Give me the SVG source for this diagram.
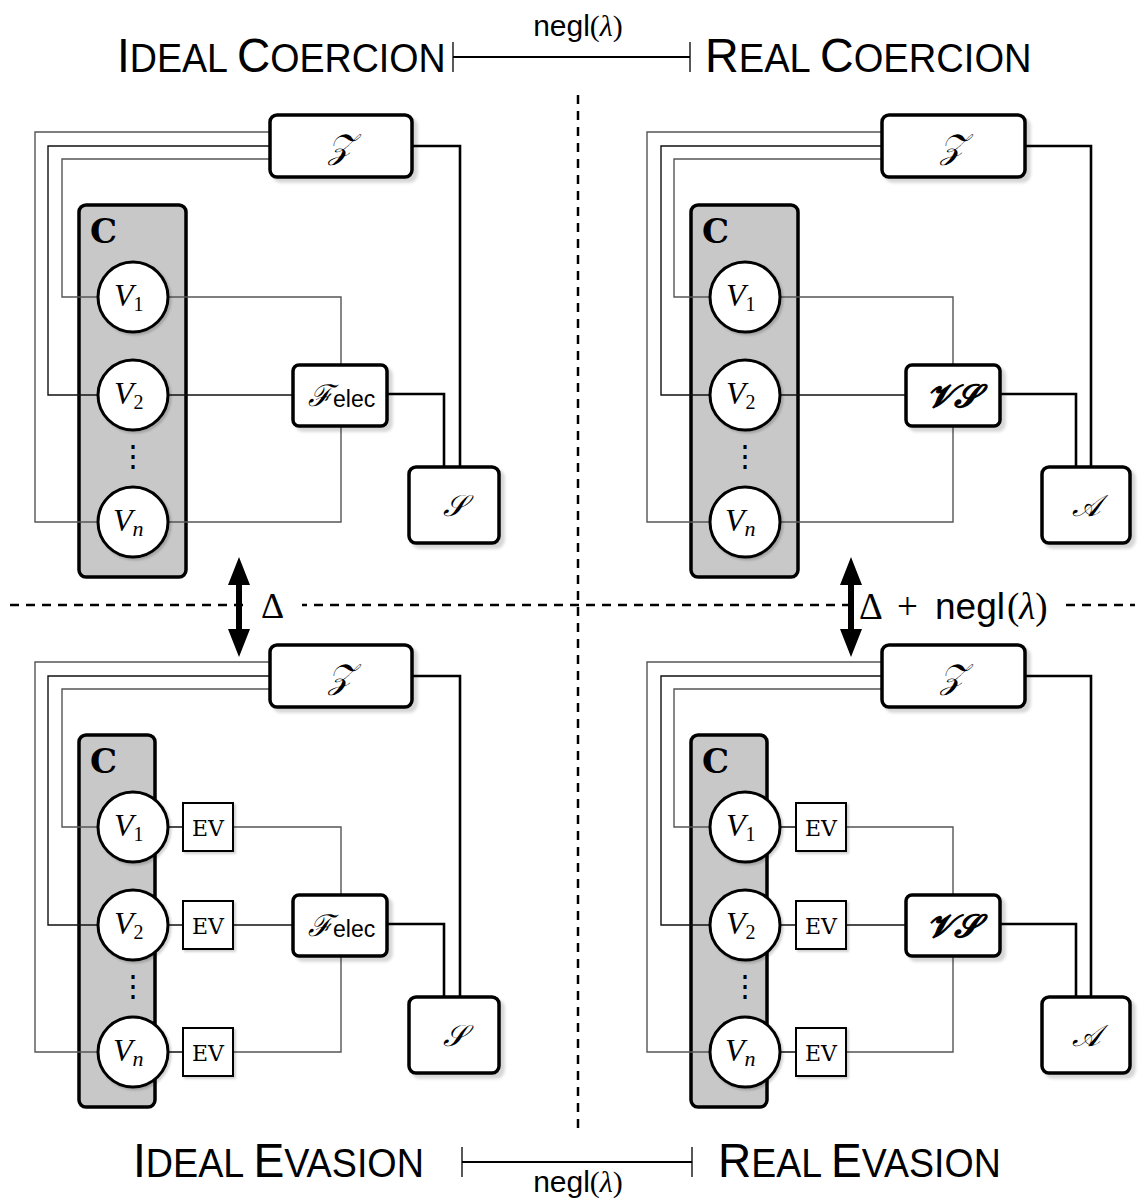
<svg xmlns="http://www.w3.org/2000/svg" width="1144" height="1201" viewBox="0 0 1144 1201">
<defs>
<filter id="sh" x="-10%" y="-10%" width="130%" height="140%"><feDropShadow dx="4" dy="4" stdDeviation="1.5" flood-color="#000" flood-opacity="0.16"/></filter>
<filter id="shs" x="-10%" y="-10%" width="130%" height="130%"><feDropShadow dx="2" dy="2" stdDeviation="1" flood-color="#000" flood-opacity="0.18"/></filter>
<style>
.box{fill:#fff;stroke:#000;stroke-width:3.5;filter:url(#sh)}
.cbox{fill:#c8c8c8;stroke:#000;stroke-width:3.5}
.circ{fill:#fff;stroke:#000;stroke-width:3;filter:url(#shs)}
.ev{fill:#fff;stroke:#000;stroke-width:2;filter:url(#shs)}
.w{fill:none;stroke:#111;stroke-width:1.4}
.wg{fill:none;stroke:#555;stroke-width:1.4}
.wt{fill:none;stroke:#000;stroke-width:2.6}
.dash{fill:none;stroke:#000;stroke-width:2.5;stroke-dasharray:9 7}
.bar{fill:none;stroke:#000;stroke-width:2.2}
.tick{fill:none;stroke:#000;stroke-width:1.3}
.title{font-family:"Liberation Sans",Arial,sans-serif;fill:#000}
.cap{font-size:49px}
.sc{font-size:40px}
.mi{font-family:"Liberation Serif","DejaVu Serif",serif;font-style:italic;font-size:32px;fill:#000}
.sub{font-family:"Liberation Serif","DejaVu Serif",serif;font-style:normal;font-size:20px}
.subi{font-family:"Liberation Serif","DejaVu Serif",serif;font-style:italic;font-size:22px}
.rm{font-family:"Liberation Serif","DejaVu Serif",serif;font-style:normal;fill:#000}
.it{font-family:"Liberation Serif","DejaVu Serif",serif;font-style:italic}
.scr{font-family:"DejaVu Serif","Liberation Serif",serif;font-style:italic;fill:#000;text-anchor:middle}
.sans{font-family:"Liberation Sans",Arial,sans-serif;fill:#000}
.tt{font-family:"DejaVu Serif","Liberation Serif",serif;fill:#000}
.arr{fill:#000}
</style>
</defs>
<rect width="1144" height="1201" fill="#fff"/>

<!-- titles -->
<g id="title-ideal-coercion"><text class="title" transform="translate(117,72) scale(0.94,1)"><tspan class="cap">I</tspan><tspan class="sc">DEAL </tspan><tspan class="cap">C</tspan><tspan class="sc">OERCION</tspan></text></g>
<g id="title-real-coercion"><text class="title" transform="translate(705,72) scale(0.953,1)"><tspan class="cap">R</tspan><tspan class="sc">EAL </tspan><tspan class="cap">C</tspan><tspan class="sc">OERCION</tspan></text></g>
<g id="title-ideal-evasion"><text class="title" transform="translate(133,1177) scale(0.943,1)"><tspan class="cap">I</tspan><tspan class="sc">DEAL </tspan><tspan class="cap">E</tspan><tspan class="sc">VASION</tspan></text></g>
<g id="title-real-evasion"><text class="title" transform="translate(718,1177) scale(0.938,1)"><tspan class="cap">R</tspan><tspan class="sc">EAL </tspan><tspan class="cap">E</tspan><tspan class="sc">VASION</tspan></text></g>

<!-- top and bottom negl bars -->
<g id="bar-top">
<path class="tick" d="M453,42V72M690,42V72"/>
<path class="bar" d="M453,57H690"/>
<text class="sans" x="578" y="36" font-size="30" text-anchor="middle">negl<tspan class="rm">(</tspan><tspan class="it">λ</tspan><tspan class="rm">)</tspan></text>
</g>
<g id="bar-bottom">
<path class="tick" d="M462,1147V1177M692,1147V1177"/>
<path class="bar" d="M462,1162H692"/>
<text class="sans" x="578" y="1192" font-size="30" text-anchor="middle">negl<tspan class="rm">(</tspan><tspan class="it">λ</tspan><tspan class="rm">)</tspan></text>
</g>

<!-- separators -->
<g id="separators">
<path class="dash" d="M578,95V1135"/>
<path class="dash" d="M10,605H1135"/>
<rect x="250" y="585" width="52" height="40" fill="#fff"/>
<rect x="856" y="583" width="206" height="44" fill="#fff"/>
</g>

<!-- C boxes (drawn below wires) -->
<g id="C-tl"><rect class="cbox" x="79" y="205" width="107" height="372" rx="7"/><text class="tt" x="90" y="243" font-size="34" font-weight="bold">C</text></g>
<g id="C-tr"><rect class="cbox" x="691" y="205" width="107" height="372" rx="7"/><text class="tt" x="702" y="243" font-size="34" font-weight="bold">C</text></g>
<g id="C-bl"><rect class="cbox" x="79" y="735" width="76" height="372" rx="7"/><text class="tt" x="90" y="773" font-size="34" font-weight="bold">C</text></g>
<g id="C-br"><rect class="cbox" x="691" y="735" width="76" height="372" rx="7"/><text class="tt" x="702" y="773" font-size="34" font-weight="bold">C</text></g>

<!-- connectors -->
<g id="connectors">
<!-- top-left -->
<path class="wg" d="M270,132H35V522H98"/>
<path class="w" d="M270,146H48V395H98"/>
<path class="wg" d="M270,159H62V297H98"/>
<path class="wg" d="M168,297H341V365"/>
<path class="w" d="M168,395H293"/>
<path class="wg" d="M168,522H341V426"/>
<path class="wt" d="M387,394H444V467"/>
<path class="wt" d="M412,146H460V467"/>
<!-- top-right -->
<path class="wg" d="M882,132H647V522H710"/>
<path class="w" d="M882,146H661V395H710"/>
<path class="wg" d="M882,159H674V297H710"/>
<path class="wg" d="M780,297H953V365"/>
<path class="w" d="M780,395H906"/>
<path class="wg" d="M780,522H953V426"/>
<path class="wt" d="M1000,394H1076V467"/>
<path class="wt" d="M1025,146H1091V467"/>
<!-- bottom-left -->
<path class="wg" d="M270,662H35V1052H98"/>
<path class="w" d="M270,676H48V925H98"/>
<path class="wg" d="M270,689H62V827H98"/>
<path class="w" d="M168,827H183M168,925H183M168,1052H183"/>
<path class="wg" d="M233,827H341V895"/>
<path class="w" d="M233,925H293"/>
<path class="wg" d="M233,1052H341V956"/>
<path class="wt" d="M387,924H444V997"/>
<path class="wt" d="M412,676H460V997"/>
<!-- bottom-right -->
<path class="wg" d="M882,662H647V1052H710"/>
<path class="w" d="M882,676H661V925H710"/>
<path class="wg" d="M882,689H674V827H710"/>
<path class="w" d="M780,827H796M780,925H796M780,1052H796"/>
<path class="wg" d="M846,827H953V895"/>
<path class="w" d="M846,925H906"/>
<path class="wg" d="M846,1052H953V956"/>
<path class="wt" d="M1000,924H1076V997"/>
<path class="wt" d="M1025,676H1091V997"/>
</g>

<!-- top-left nodes -->
<g id="Z-tl"><rect class="box" x="270" y="115" width="142" height="62" rx="7"/><text class="scr" x="341" y="158" font-size="34">𝒵</text></g>
<g id="V1-tl"><circle class="circ" cx="133" cy="297" r="35"/><text class="mi" x="114" y="306">V<tspan class="sub" dy="5">1</tspan></text></g>
<g id="V2-tl"><circle class="circ" cx="133" cy="395" r="35"/><text class="mi" x="114" y="404">V<tspan class="sub" dy="5">2</tspan></text></g>
<g id="dots-tl"><text class="sans" x="133" y="466" font-size="30" text-anchor="middle">⋮</text></g>
<g id="Vn-tl"><circle class="circ" cx="133" cy="522" r="35"/><text class="mi" x="113" y="531">V<tspan class="subi" dy="5">n</tspan></text></g>
<g id="Felec-tl"><rect class="box" x="293" y="365" width="94" height="61" rx="6"/><text class="scr" x="320" y="406" font-size="30">ℱ</text><text class="sans" x="333" y="407" font-size="23">elec</text></g>
<g id="S-tl"><rect class="box" x="409" y="467" width="90" height="76" rx="7"/><text class="scr" x="454" y="516" font-size="30">𝒮</text></g>

<!-- top-right nodes -->
<g id="Z-tr"><rect class="box" x="882" y="115" width="143" height="62" rx="7"/><text class="scr" x="953" y="158" font-size="34">𝒵</text></g>
<g id="V1-tr"><circle class="circ" cx="745" cy="297" r="35"/><text class="mi" x="726" y="306">V<tspan class="sub" dy="5">1</tspan></text></g>
<g id="V2-tr"><circle class="circ" cx="745" cy="395" r="35"/><text class="mi" x="726" y="404">V<tspan class="sub" dy="5">2</tspan></text></g>
<g id="dots-tr"><text class="sans" x="745" y="466" font-size="30" text-anchor="middle">⋮</text></g>
<g id="Vn-tr"><circle class="circ" cx="745" cy="522" r="35"/><text class="mi" x="725" y="531">V<tspan class="subi" dy="5">n</tspan></text></g>
<g id="VS-tr"><rect class="box" x="906" y="365" width="94" height="61" rx="6"/><text class="scr" x="953" y="407" font-size="32" font-weight="bold">𝓥𝓢</text></g>
<g id="A-tr"><rect class="box" x="1042" y="467" width="88" height="76" rx="7"/><text class="scr" x="1086" y="516" font-size="30">𝒜</text></g>

<!-- bottom-left nodes -->
<g id="Z-bl"><rect class="box" x="270" y="645" width="142" height="62" rx="7"/><text class="scr" x="341" y="688" font-size="34">𝒵</text></g>
<g id="V1-bl"><circle class="circ" cx="133" cy="827" r="35"/><text class="mi" x="114" y="836">V<tspan class="sub" dy="5">1</tspan></text></g>
<g id="V2-bl"><circle class="circ" cx="133" cy="925" r="35"/><text class="mi" x="114" y="934">V<tspan class="sub" dy="5">2</tspan></text></g>
<g id="dots-bl"><text class="sans" x="133" y="996" font-size="30" text-anchor="middle">⋮</text></g>
<g id="Vn-bl"><circle class="circ" cx="133" cy="1052" r="35"/><text class="mi" x="113" y="1061">V<tspan class="subi" dy="5">n</tspan></text></g>
<g id="EV1-bl"><rect class="ev" x="183" y="803" width="50" height="48"/><text class="tt" x="208" y="836" font-size="22" text-anchor="middle">EV</text></g>
<g id="EV2-bl"><rect class="ev" x="183" y="901" width="50" height="48"/><text class="tt" x="208" y="934" font-size="22" text-anchor="middle">EV</text></g>
<g id="EVn-bl"><rect class="ev" x="183" y="1028" width="50" height="48"/><text class="tt" x="208" y="1061" font-size="22" text-anchor="middle">EV</text></g>
<g id="Felec-bl"><rect class="box" x="293" y="895" width="94" height="61" rx="6"/><text class="scr" x="320" y="936" font-size="30">ℱ</text><text class="sans" x="333" y="937" font-size="23">elec</text></g>
<g id="S-bl"><rect class="box" x="409" y="997" width="90" height="76" rx="7"/><text class="scr" x="454" y="1046" font-size="30">𝒮</text></g>

<!-- bottom-right nodes -->
<g id="Z-br"><rect class="box" x="882" y="645" width="143" height="62" rx="7"/><text class="scr" x="953" y="688" font-size="34">𝒵</text></g>
<g id="V1-br"><circle class="circ" cx="745" cy="827" r="35"/><text class="mi" x="726" y="836">V<tspan class="sub" dy="5">1</tspan></text></g>
<g id="V2-br"><circle class="circ" cx="745" cy="925" r="35"/><text class="mi" x="726" y="934">V<tspan class="sub" dy="5">2</tspan></text></g>
<g id="dots-br"><text class="sans" x="745" y="996" font-size="30" text-anchor="middle">⋮</text></g>
<g id="Vn-br"><circle class="circ" cx="745" cy="1052" r="35"/><text class="mi" x="725" y="1061">V<tspan class="subi" dy="5">n</tspan></text></g>
<g id="EV1-br"><rect class="ev" x="796" y="803" width="50" height="48"/><text class="tt" x="821" y="836" font-size="22" text-anchor="middle">EV</text></g>
<g id="EV2-br"><rect class="ev" x="796" y="901" width="50" height="48"/><text class="tt" x="821" y="934" font-size="22" text-anchor="middle">EV</text></g>
<g id="EVn-br"><rect class="ev" x="796" y="1028" width="50" height="48"/><text class="tt" x="821" y="1061" font-size="22" text-anchor="middle">EV</text></g>
<g id="VS-br"><rect class="box" x="906" y="895" width="94" height="61" rx="6"/><text class="scr" x="953" y="937" font-size="32" font-weight="bold">𝓥𝓢</text></g>
<g id="A-br"><rect class="box" x="1042" y="997" width="88" height="76" rx="7"/><text class="scr" x="1086" y="1046" font-size="30">𝒜</text></g>

<!-- distance arrows -->
<g id="delta-left">
<path class="arr" d="M239,557L250,585H242V629H250L239,657L228,629H236V585H228Z"/>
<text class="rm" x="261" y="618" font-size="36">Δ</text>
</g>
<g id="delta-right">
<path class="arr" d="M851,557L862,585H854V629H862L851,657L840,629H848V585H840Z"/>
<text font-size="37" y="619"><tspan class="rm" x="859">Δ</tspan><tspan class="rm" x="897">+</tspan><tspan class="sans" x="935">negl</tspan><tspan class="rm" x="1007">(</tspan><tspan class="it">λ</tspan><tspan class="rm">)</tspan></text>
</g>
</svg>
